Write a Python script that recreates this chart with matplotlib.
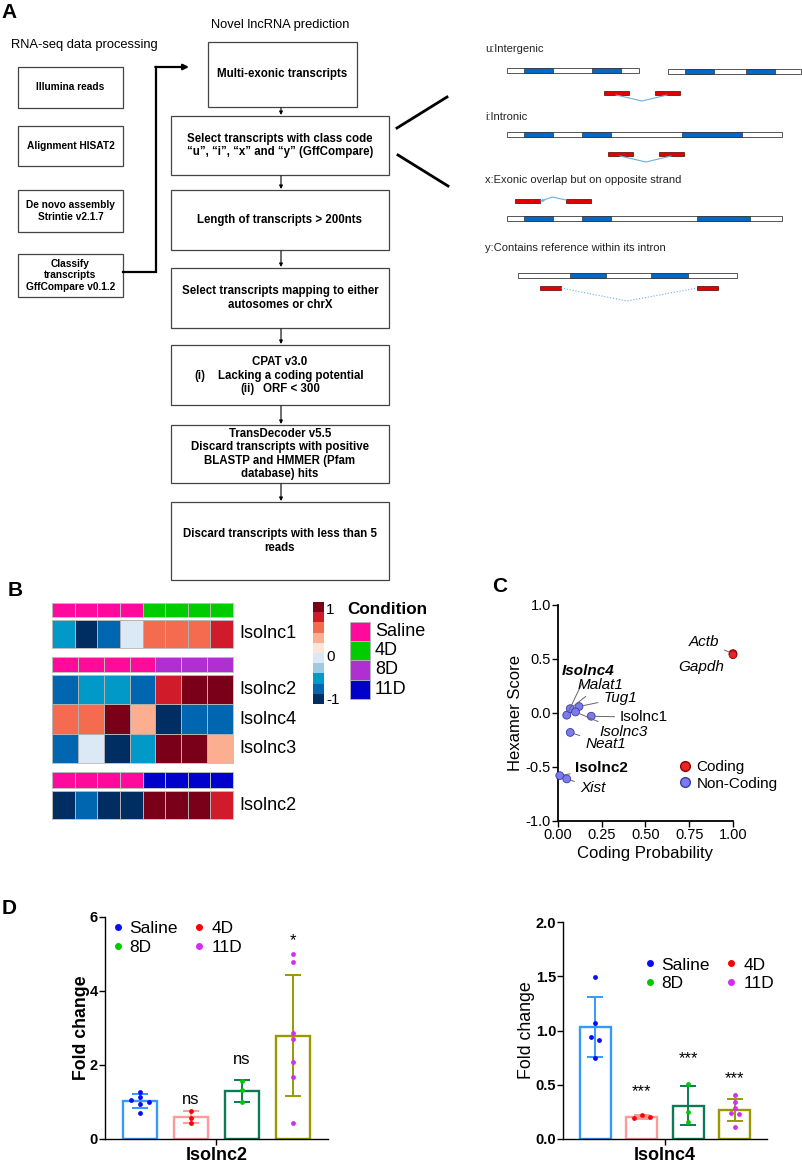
import numpy as np
import matplotlib
matplotlib.use('Agg')
import matplotlib.pyplot as plt
from matplotlib.patches import Rectangle
from matplotlib.colors import ListedColormap, BoundaryNorm
from matplotlib.lines import Line2D

plt.rcParams['font.family'] = ['Liberation Sans', 'DejaVu Sans']

W, H = 803, 1164

# ---------------- data ----------------
heat_colors = ['#002d62', '#0066b0', '#0099c8', '#9ecae1', '#dbe9f6',
               '#fee5d9', '#fcae91', '#f56b50', '#d01c2a', '#7a0019']
condition_names = ['Saline', '4D', '8D', '11D']
condition_colors = ['#ff0a9c', '#00cc00', '#b02fd0', '#0000cc']

block1_genes = ['Isolnc1']
block1_conditions = [0, 0, 0, 0, 1, 1, 1, 1]
block1_values = [[-0.5, -0.9, -0.7, -0.1, 0.5, 0.5, 0.5, 0.7]]

block2_genes = ['Isolnc2', 'Isolnc4', 'Isolnc3']
block2_conditions = [0, 0, 0, 0, 2, 2, 2]
block2_values = [[-0.7, -0.5, -0.5, -0.7, 0.7, 0.9, 0.9],
                 [0.5, 0.5, 0.9, 0.3, -0.9, -0.7, -0.7],
                 [-0.7, -0.1, -0.9, -0.5, 0.9, 0.9, 0.3]]

block3_genes = ['Isolnc2']
block3_conditions = [0, 0, 0, 0, 3, 3, 3, 3]
block3_values = [[-0.9, -0.7, -0.9, -0.9, 0.9, 0.9, 0.9, 0.7]]

cpat_genes = ['Actb', 'Gapdh', 'Isolnc4', 'Malat1', 'Tug1', 'Isolnc1',
              'Isolnc3', 'Neat1', 'Isolnc2', 'Xist']
cpat_prob = [1.0, 1.0, 0.05, 0.07, 0.12, 0.19, 0.10, 0.07, 0.01, 0.05]
cpat_hexamer = [0.55, 0.54, -0.02, 0.04, 0.06, -0.03, 0.01, -0.18, -0.58, -0.61]
cpat_coding = [True, True, False, False, False, False, False, False, False, False]
# label position (x, y in data units), style
cpat_label_pos = [(0.92, 0.66), (0.95, 0.43), (0.02, 0.39), (0.11, 0.26),
                  (0.26, 0.14), (0.355, -0.04), (0.235, -0.18), (0.155, -0.29),
                  (0.10, -0.51), (0.125, -0.69)]
cpat_label_style = ['italic', 'italic', 'bolditalic', 'italic', 'italic',
                    'normal', 'italic', 'italic', 'bold', 'italic']

groups = ['Saline', '4D', '8D', '11D']
isolnc2_fc = [[1.26, 1.14, 1.05, 1.01, 0.95, 0.71],
              [0.75, 0.58, 0.43],
              [1.57, 1.32, 1.00],
              [4.99, 4.78, 2.86, 2.70, 2.09, 1.67, 0.43]]
isolnc2_jitter = [[0, 0, -0.18, 0.18, 0, 0], [0, 0, 0], [0, 0, 0], [0] * 7]
isolnc2_sig = ['', 'ns', 'ns', '*']
isolnc2_sig_y = [0, 1.08, 2.14, 5.35]

isolnc4_fc = [[1.49, 1.07, 0.94, 0.91, 0.75],
              [0.19, 0.22, 0.20],
              [0.51, 0.25, 0.16],
              [0.41, 0.34, 0.29, 0.24, 0.23, 0.11]]
isolnc4_jitter = [[0, 0, -0.085, 0.085, 0], [-0.17, 0, 0.17], [0, 0, 0],
                  [0, 0, 0, -0.09, 0.09, 0]]
isolnc4_sig = ['', '***', '***', '***']
isolnc4_sig_y = [0, 0.44, 0.74, 0.56]

bar_edge = ['#3399ff', '#ff9a9a', '#0b7a55', '#999900']
point_colors = ['#0a0aff', '#ff0000', '#00c800', '#d22ef0']

fig = plt.figure(figsize=(W / 100, H / 100), dpi=100)


def px_axes(x0, y0, x1, y1):
    return fig.add_axes([x0 / W, 1 - y1 / H, (x1 - x0) / W, (y1 - y0) / H])


bg = px_axes(0, 0, W, H)
bg.set_xlim(0, W)
bg.set_ylim(H, 0)
bg.axis('off')

# ---------------- panel letters ----------------
for letter, (lx, ly) in zip('ABCD', [(9, 12), (15, 591), (500, 587), (9, 908)]):
    bg.text(lx, ly, letter, fontsize=15, fontweight='bold', ha='center', va='center')

# ---------------- panel A: flow chart ----------------
bg.text(84, 45, 'RNA-seq data processing', fontsize=9.3, ha='center', va='center')
bg.text(280, 25, 'Novel lncRNA prediction', fontsize=9.3, ha='center', va='center')

left_boxes = [(18, 67, 123, 108, 'Illumina reads'),
              (18, 126, 123, 166, 'Alignment HISAT2'),
              (18, 190, 123, 232, 'De novo assembly\nStrintie v2.1.7'),
              (18, 254, 123, 297, 'Classify\ntranscripts\nGffCompare v0.1.2')]
right_boxes = [(208, 42, 357, 107, 'Multi-exonic transcripts'),
               (171, 116, 389, 175, 'Select transcripts with class code\n'
                '\u201cu\u201d, \u201ci\u201d, \u201cx\u201d and \u201cy\u201d (GffCompare)'),
               (171, 190, 389, 250, 'Length of transcripts > 200nts'),
               (171, 268, 389, 328, 'Select transcripts mapping to either\nautosomes or chrX'),
               (171, 345, 389, 405, None),
               (171, 425, 389, 483, 'TransDecoder v5.5\nDiscard transcripts with positive\n'
                'BLASTP and HMMER (Pfam\ndatabase) hits'),
               (171, 502, 389, 580, 'Discard transcripts with less than 5\nreads')]

for boxes, fs in [(left_boxes, 7.3), (right_boxes, 8.3)]:
    for x0, y0, x1, y1, txt in boxes:
        bg.add_patch(Rectangle((x0, y0), x1 - x0, y1 - y0, fc='white', ec='#444444', lw=0.9))
        if txt:
            bg.text((x0 + x1) / 2, (y0 + y1) / 2, txt, fontsize=fs, fontweight='bold',
                    ha='center', va='center', linespacing=1.15)

# CPAT box lines
bg.text(280, 362, 'CPAT v3.0', fontsize=8.3, fontweight='bold', ha='center', va='center')
bg.text(194, 376, '(i)', fontsize=8.3, fontweight='bold', ha='left', va='center')
bg.text(218, 376, 'Lacking a coding potential', fontsize=8.3, fontweight='bold', ha='left', va='center')
bg.text(240, 389, '(ii)', fontsize=8.3, fontweight='bold', ha='left', va='center')
bg.text(263, 389, 'ORF < 300', fontsize=8.3, fontweight='bold', ha='left', va='center')

for (a, b) in zip(right_boxes[:-1], right_boxes[1:]):
    bg.annotate('', xy=(281, b[1] - 1), xytext=(281, a[3] + 1),
                arrowprops=dict(arrowstyle='-|>', lw=0.8, color='black', mutation_scale=5,
                                shrinkA=0, shrinkB=0))

# connector from classify box
bg.plot([123, 156, 156], [272, 272, 67], color='black', lw=1.6, solid_joinstyle='miter')
bg.annotate('', xy=(189, 67), xytext=(155.2, 67),
            arrowprops=dict(arrowstyle='-|>', lw=1.6, color='black', mutation_scale=8,
                            shrinkA=0, shrinkB=0))

# diagonal lines
bg.plot([397, 447], [128, 97], color='black', lw=2)
bg.plot([398, 448], [155, 186], color='black', lw=2)


def gene(x0, x1, y, exons, h=5):
    bg.add_patch(Rectangle((x0, y - h / 2), x1 - x0, h, fc='white', ec='#555555', lw=0.7))
    for a, b in exons:
        bg.add_patch(Rectangle((a, y - h / 2), b - a, h, fc='#0068c8', ec='#333333', lw=0.5))


def transcript(segs, y, h=4):
    for a, b in segs:
        bg.add_patch(Rectangle((a, y - h / 2), b - a, h, fc='#e00000', ec='#550000', lw=0.5))


lab_kw = dict(fontsize=8, ha='left', va='center', color='#222222')
# u
bg.text(485, 49, 'u:Intergenic', **lab_kw)
gene(507, 639, 70, [(524, 553), (592, 621)])
gene(668, 801, 71, [(685, 714), (746, 775)])
transcript([(604, 629), (655, 680)], 93)
bg.plot([616, 642, 667], [95, 101, 95], color='#6ab0e0', lw=0.8)
# i
bg.text(485, 117, 'i:Intronic', **lab_kw)
gene(507, 782, 134, [(524, 553), (582, 611), (682, 742)])
transcript([(608, 633), (659, 684)], 154)
bg.plot([620, 646, 671], [156, 162, 156], color='#6ab0e0', lw=0.8)
# x
bg.text(485, 180, 'x:Exonic overlap but on opposite strand', **lab_kw)
transcript([(515, 540), (566, 591)], 201)
bg.plot([566, 552, 544], [200, 197, 200], color='#6ab0e0', lw=0.8)
bg.annotate('', xy=(540, 201), xytext=(545, 200),
            arrowprops=dict(arrowstyle='-|>', lw=0.6, color='#6ab0e0', mutation_scale=4,
                            shrinkA=0, shrinkB=0))
gene(507, 782, 218, [(524, 553), (582, 611), (697, 750)])
# y
bg.text(485, 248, 'y:Contains reference within its intron', **lab_kw)
gene(518, 737, 275, [(570, 606), (651, 688)])
transcript([(540, 561), (697, 718)], 288)
bg.plot([561, 627, 697], [288, 301, 288], color='#6ab0e0', lw=0.8, ls=':')

# ---------------- panel B: heatmap ----------------
heat_cmap = ListedColormap(heat_colors)
heat_norm = BoundaryNorm(np.linspace(-1, 1, 11), heat_cmap.N)
cond_cmap = ListedColormap(condition_colors)

blocks = [(block1_genes, block1_conditions, block1_values, (603, 617), (620, 648)),
          (block2_genes, block2_conditions, block2_values, (657, 672), (675, 763)),
          (block3_genes, block3_conditions, block3_values, (772, 788), (791, 819))]

for genes, conds, vals, (ay0, ay1), (hy0, hy1) in blocks:
    ax_a = px_axes(52, ay0, 233, ay1)
    ax_a.pcolormesh(np.array([conds]), cmap=cond_cmap, vmin=-0.5, vmax=3.5,
                    edgecolors='#b8b8b8', linewidth=0.6)
    ax_h = px_axes(52, hy0, 233, hy1)
    ax_h.pcolormesh(np.array(vals), cmap=heat_cmap, norm=heat_norm,
                    edgecolors='#b0b0b0', linewidth=0.6)
    ax_h.invert_yaxis()
    for ax in (ax_a, ax_h):
        ax.set_xticks([])
        ax.set_yticks([])
        for s in ax.spines.values():
            s.set_color('#b8b8b8')
            s.set_linewidth(0.6)
    row_h = (hy1 - hy0) / len(genes)
    for k, g in enumerate(genes):
        bg.text(239, hy0 + row_h * (k + 0.5), g, fontsize=13, ha='left', va='center')

cax = px_axes(313, 602, 324, 704)
cax.pcolormesh(np.linspace(-0.9, 0.9, 10).reshape(-1, 1), cmap=heat_cmap, norm=heat_norm)
cax.axis('off')
for t, ty in [('1', 610), ('0', 657), ('-1', 700)]:
    bg.text(326, ty, t, fontsize=11, ha='left', va='center')

bg.text(347, 609, 'Condition', fontsize=12.3, fontweight='bold', ha='left', va='center')
for k, (name, col) in enumerate(zip(condition_names, condition_colors)):
    y0 = 622 + k * 19.2
    bg.add_patch(Rectangle((350, y0), 20, 19.2, fc=col, ec='#b8b8b8', lw=0.6))
    bg.text(375, y0 + 9.6, name, fontsize=13, ha='left', va='center')

# ---------------- panel C: CPAT scatter ----------------
axc = px_axes(558, 605, 733, 821)
cols = ['#ee2222' if c else '#7b7bee' for c in cpat_coding]
edges = ['#8a0000' if c else '#3a3aa8' for c in cpat_coding]
axc.scatter(cpat_prob, cpat_hexamer, s=32, c=cols, edgecolors=edges, linewidths=0.6,
            zorder=3, clip_on=False)
for g, px, py, (tx, ty), st in zip(cpat_genes, cpat_prob, cpat_hexamer,
                                   cpat_label_pos, cpat_label_style):
    ha = 'right' if px > 0.5 else 'left'
    style = 'italic' if 'italic' in st else 'normal'
    weight = 'bold' if 'bold' in st else 'normal'
    axc.annotate(g, xy=(px, py), xytext=(tx, ty), fontsize=11, ha=ha, va='center',
                 fontstyle=style, fontweight=weight,
                 arrowprops=dict(arrowstyle='-', color='#666666', lw=0.7,
                                 shrinkA=2, shrinkB=3))
axc.set_xlim(0, 1)
axc.set_ylim(-1, 1)
axc.set_xticks([0, 0.25, 0.5, 0.75, 1.0])
axc.set_xticklabels(['0.00', '0.25', '0.50', '0.75', '1.00'])
axc.set_yticks([-1, -0.5, 0, 0.5, 1.0])
axc.set_yticklabels(['-1.0', '-0.5', '0.0', '0.5', '1.0'])
axc.tick_params(labelsize=10.5, length=4, width=1, pad=1)
for s in ['top', 'right']:
    axc.spines[s].set_visible(False)
for s in ['left', 'bottom']:
    axc.spines[s].set_linewidth(1.3)
axc.set_xlabel('Coding Probability', fontsize=12, labelpad=3)
axc.set_ylabel('Hexamer Score', fontsize=12, labelpad=2)
axc.set_facecolor('none')
leg_c = [Line2D([0], [0], marker='o', ls='', markersize=7, markerfacecolor='#ee2222',
                markeredgecolor='#8a0000', label='Coding'),
         Line2D([0], [0], marker='o', ls='', markersize=7, markerfacecolor='#7b7bee',
                markeredgecolor='#3a3aa8', label='Non-Coding')]
axc.legend(handles=leg_c, loc='center left', bbox_to_anchor=(0.69, 0.21), frameon=False,
           fontsize=11, handlelength=0.8, handletextpad=0.35, labelspacing=0.15,
           borderpad=0, borderaxespad=0)


# ---------------- panel D: fold change bars ----------------
def fold_panel(ax, data, jitter, sig, sig_y, ymax, yticks, yticklabels, ylabel_weight,
               xlabel, leg_anchor):
    x = np.arange(len(groups))
    means = [np.mean(v) for v in data]
    sds = [np.std(v, ddof=1) for v in data]
    ax.bar(x, means, width=0.66, color='white', edgecolor=bar_edge, linewidth=1.7, zorder=1)
    for i in range(len(groups)):
        ax.errorbar(x[i], means[i], yerr=sds[i], color=bar_edge[i], capsize=6,
                    elinewidth=1.4, capthick=1.4, zorder=2)
        ax.scatter(x[i] + np.array(jitter[i]), data[i], s=12, color=point_colors[i],
                   zorder=3, linewidths=0, clip_on=False)
        if sig[i]:
            ax.text(x[i], sig_y[i], sig[i], fontsize=12, ha='center', va='center')
    ax.set_xlim(-0.69, 3.69)
    ax.set_ylim(0, ymax)
    ax.set_yticks(yticks)
    ax.set_yticklabels(yticklabels, fontweight='bold')
    ax.set_xticks([1.5])
    ax.set_xticklabels([xlabel], fontweight='bold', fontsize=13)
    ax.tick_params(axis='y', labelsize=10.5, length=4, width=1, pad=1)
    ax.tick_params(axis='x', length=4, width=1, pad=2)
    for s in ['top', 'right']:
        ax.spines[s].set_visible(False)
    for s in ['left', 'bottom']:
        ax.spines[s].set_linewidth(1.0)
    ax.set_ylabel('Fold change', fontsize=12.8, fontweight=ylabel_weight, labelpad=0)
    ax.set_facecolor('none')
    handles = [Line2D([0], [0], marker='o', ls='', markersize=4, color=point_colors[i],
                      label=groups[i]) for i in (0, 2, 1, 3)]
    ax.legend(handles=handles, ncol=2, loc='upper left', bbox_to_anchor=leg_anchor,
              frameon=False, fontsize=12.5, handlelength=0.8, handletextpad=0.3,
              columnspacing=0.8, labelspacing=0.2, borderpad=0, borderaxespad=0)


axd1 = px_axes(105, 917, 328, 1139)
fold_panel(axd1, isolnc2_fc, isolnc2_jitter, isolnc2_sig, isolnc2_sig_y, 6,
           [0, 2, 4, 6], ['0', '2', '4', '6'], 'bold', 'Isolnc2', (0.025, 0.982))

axd2 = px_axes(563, 922, 767, 1139)
fold_panel(axd2, isolnc4_fc, isolnc4_jitter, isolnc4_sig, isolnc4_sig_y, 2.0,
           [0, 0.5, 1.0, 1.5, 2.0], ['0.0', '0.5', '1.0', '1.5', '2.0'], 'normal',
           'Isolnc4', (0.39, 0.837))

fig.savefig('out.png', dpi=100)
